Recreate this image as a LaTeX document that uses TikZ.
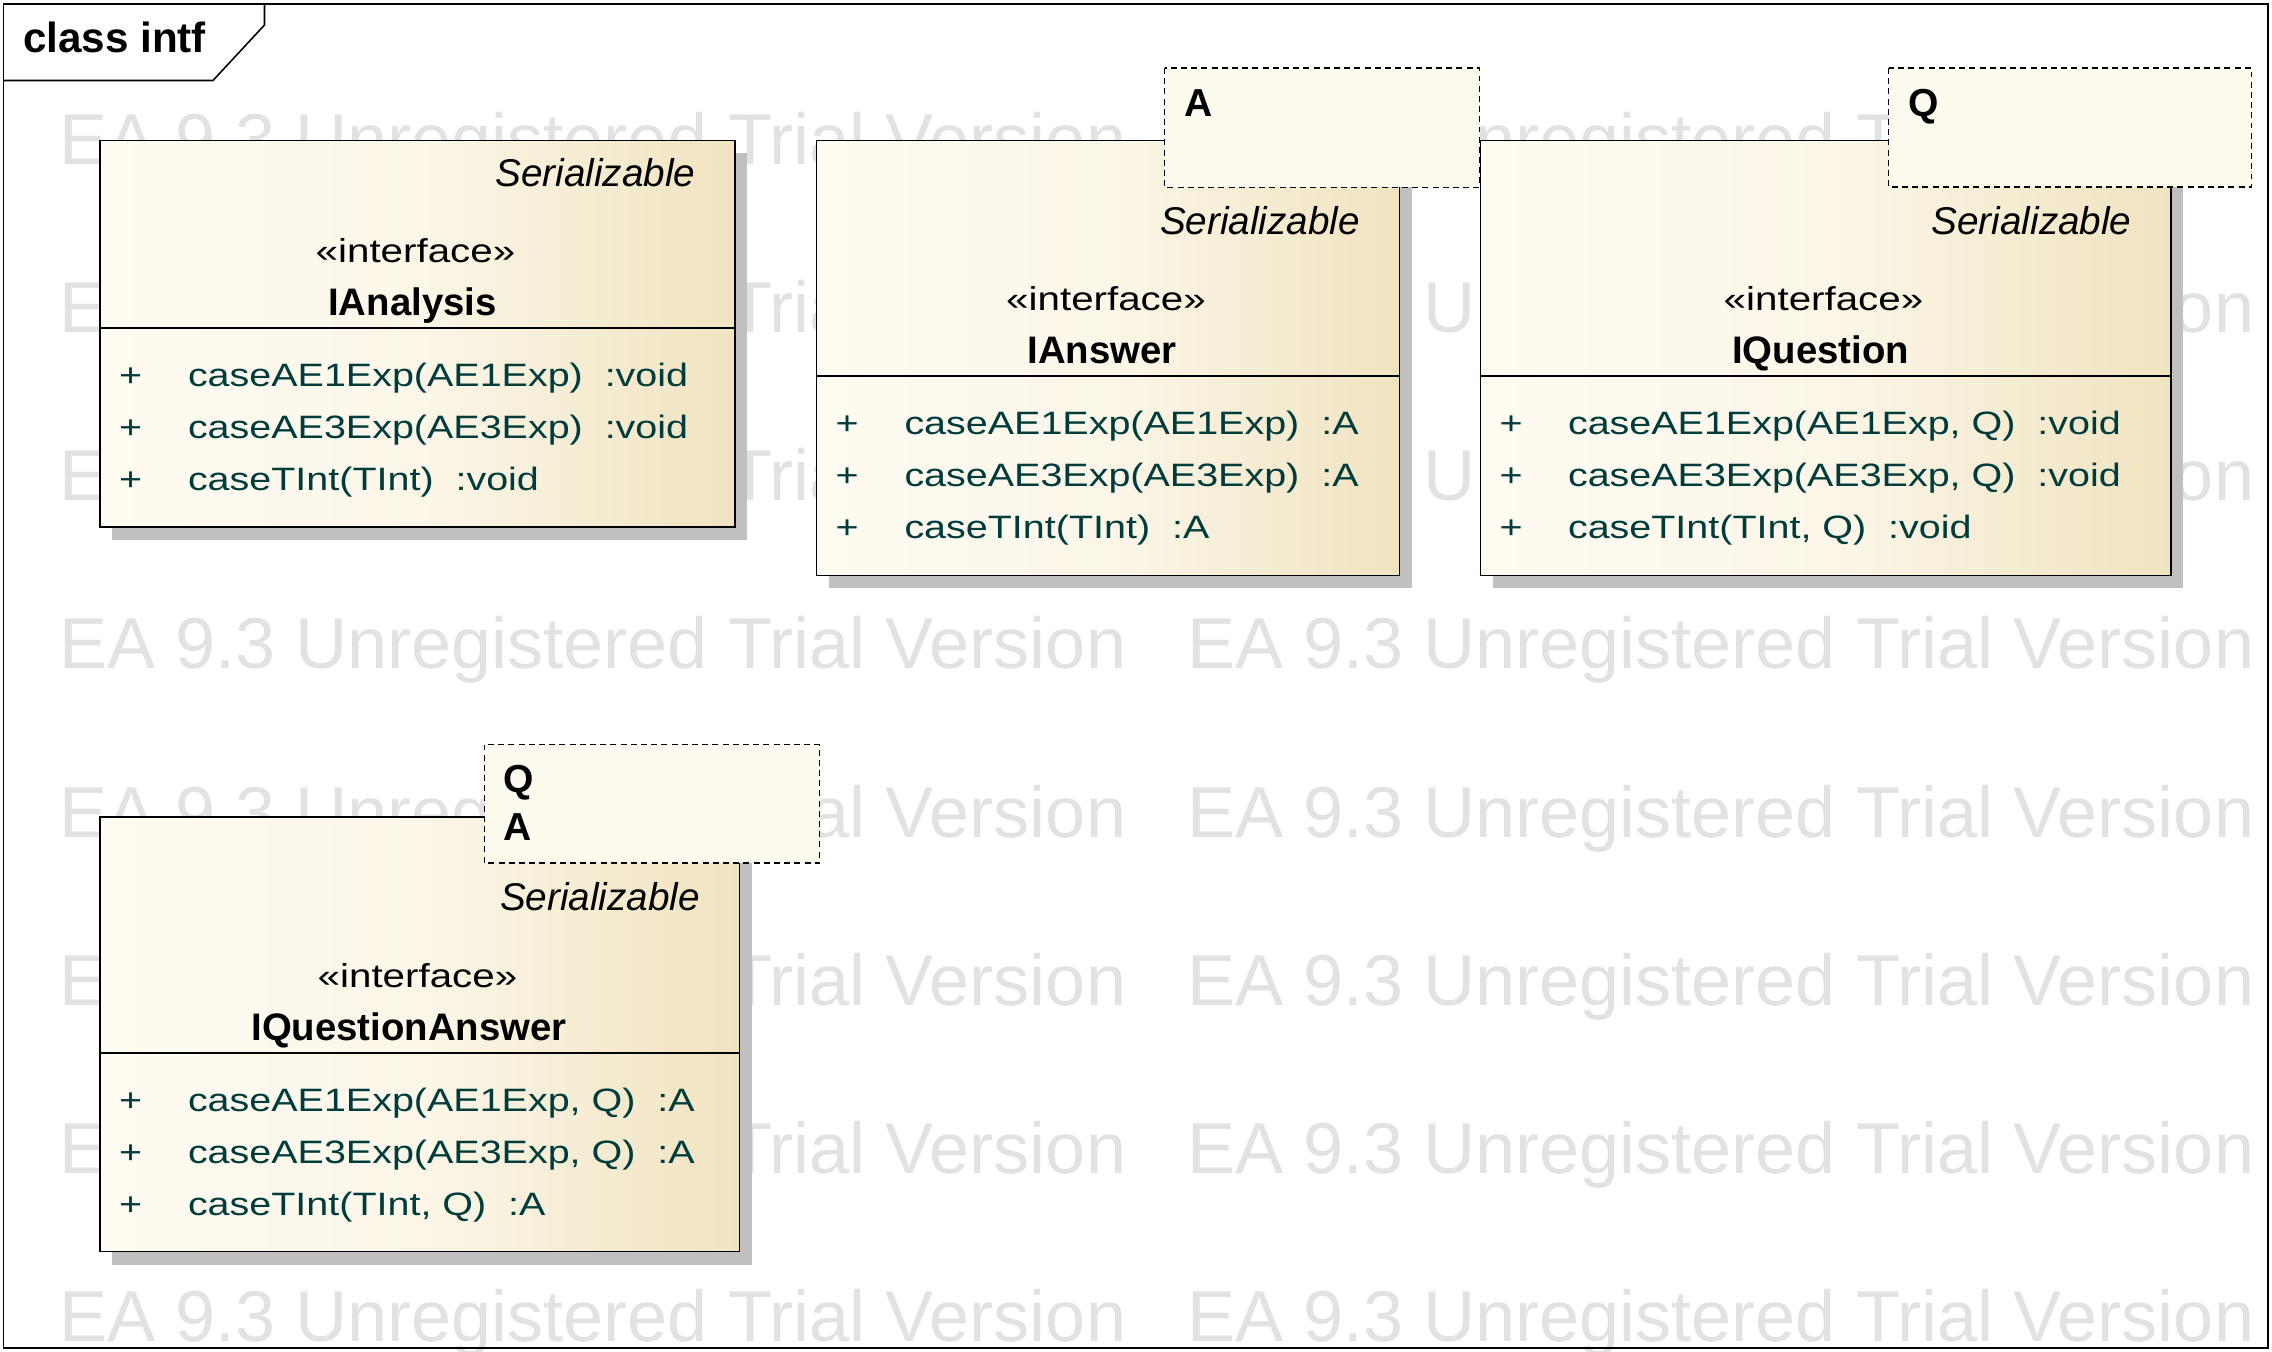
\documentclass[tikz,border=0pt]{standalone}
\usepackage{fontspec}
\setmainfont{Liberation Sans}
\newfontfamily\widefont[FakeStretch=1.22]{Liberation Sans}
\definecolor{boxlight}{RGB}{254,251,242}
\definecolor{boxdark}{RGB}{240,227,192}
\colorlet{boxmid}{boxlight!80!boxdark}
\definecolor{tplfill}{RGB}{253,250,238}
\definecolor{optext}{RGB}{0,60,60}
\definecolor{wmgray}{RGB}{226,226,226}
\definecolor{shadowgray}{RGB}{192,192,192}
\begin{document}
\begin{tikzpicture}[x=0.01cm, y=-0.01cm,
    every node/.style={inner sep=0pt, outer sep=0pt},
    watermark/.style={text=wmgray, font=\fontsize{20.5}{24}\selectfont, anchor=base west},
    shadowbox/.style={fill=shadowgray},
    ifacebox/.style={draw=black, line width=0.45pt, left color=boxlight, right color=boxdark, middle color=boxmid},
    tplbox/.style={draw=black, line width=0.35pt, dash pattern=on 1.7pt off 1.2pt, fill=tplfill},
    sepline/.style={line width=0.35pt},
    parentname/.style={font=\itshape\fontsize{11}{13}\selectfont, anchor=base east},
    stereo/.style={font=\widefont\fontsize{9.4}{11}\selectfont, anchor=base},
    iname/.style={font=\bfseries\fontsize{10.9}{13}\selectfont, anchor=base},
    op/.style={font=\widefont\fontsize{9.2}{11}\selectfont, text=optext, anchor=base west},
    tparam/.style={font=\bfseries\fontsize{11.1}{13}\selectfont, anchor=base west}]

\useasboundingbox[fill=white] (0,0) rectangle (2272,1352);

\foreach \row in {0,...,7}
  \foreach \col in {0,1}
    \node[watermark] (wm-\row-\col) at ({59+1128*\col},{165+168*\row}) {EA 9.3 Unregistered Trial Version};

% IAnalysis
\fill[shadowbox] (112,153.5) rectangle (747,540);
\draw[ifacebox] (100,140.5) rectangle (735,527);
\draw[sepline] (100,328) -- (735,328);
\node[parentname] (an-ser) at (695.5,186.5) {Serializable};
\node[stereo] (an-st) at (415.5,263) {«interface»};
\node[iname] (an-name) at (412.5,316) {IAnalysis};
\foreach \m [count=\i] in {caseAE1Exp(AE1Exp)~~:void, caseAE3Exp(AE3Exp)~~:void, caseTInt(TInt)~~:void} {
  \node[op] (an-v\i) at ({119},{386.5+52*(\i-1)}) {+};
  \node[op] (an-m\i) at ({188},{386.5+52*(\i-1)}) {\m};
}

% IAnswer
\fill[shadowbox] (828.5,153.5) rectangle (1411.5,588.5);
\draw[ifacebox] (816.5,140.5) rectangle (1399.5,575.5);
\draw[sepline] (816.5,376) -- (1399.5,376);
\draw[tplbox] (1164.5,68) rectangle (1479.5,187.5);
\node[tparam] (ans-a) at (1184,116.5) {A};
\node[parentname] (ans-ser) at (1360,234.5) {Serializable};
\node[stereo] (ans-st) at (1106,311) {«interface»};
\node[iname] (ans-name) at (1102,364) {IAnswer};
\foreach \m [count=\i] in {caseAE1Exp(AE1Exp)~~:A, caseAE3Exp(AE3Exp)~~:A, caseTInt(TInt)~~:A} {
  \node[op] (ans-v\i) at ({835.5},{435+52*(\i-1)}) {+};
  \node[op] (ans-m\i) at ({904.5},{435+52*(\i-1)}) {\m};
}

% IQuestion
\fill[shadowbox] (1492.5,153.5) rectangle (2183,588.5);
\draw[ifacebox] (1480.5,140.5) rectangle (2171,575.5);
\draw[sepline] (1480.5,376) -- (2171,376);
\draw[tplbox] (1888.5,68) rectangle (2251.5,187);
\node[tparam] (q-q) at (1908,116.5) {Q};
\node[parentname] (q-ser) at (2131.5,234.5) {Serializable};
\node[stereo] (q-st) at (1823.5,311) {«interface»};
\node[iname] (q-name) at (1820.5,364) {IQuestion};
\foreach \m [count=\i] in {{caseAE1Exp(AE1Exp, Q)~~:void}, {caseAE3Exp(AE3Exp, Q)~~:void}, {caseTInt(TInt, Q)~~:void}} {
  \node[op] (q-v\i) at ({1499.5},{435+52*(\i-1)}) {+};
  \node[op] (q-m\i) at ({1568},{435+52*(\i-1)}) {\m};
}

% IQuestionAnswer
\fill[shadowbox] (112,830) rectangle (751.5,1264.5);
\draw[ifacebox] (100,817) rectangle (739.5,1251.5);
\draw[sepline] (100,1053) -- (739.5,1053);
\draw[tplbox] (484.5,744.5) rectangle (819.5,863);
\node[tparam] (qa-q) at (503.5,792) {Q};
\node[tparam] (qa-a) at (503.5,840) {A};
\node[parentname] (qa-ser) at (700,910.5) {Serializable};
\node[stereo] (qa-st) at (417.5,987.5) {«interface»};
\node[iname] (qa-name) at (409,1040.5) {IQuestionAnswer};
\foreach \m [count=\i] in {{caseAE1Exp(AE1Exp, Q)~~:A}, {caseAE3Exp(AE3Exp, Q)~~:A}, {caseTInt(TInt, Q)~~:A}} {
  \node[op] (qa-v\i) at ({119},{1111.5+52*(\i-1)}) {+};
  \node[op] (qa-m\i) at ({188},{1111.5+52*(\i-1)}) {\m};
}

% frame
\draw[line width=0.45pt] (3.5,4) rectangle (2268,1348);
\draw[line width=0.45pt] (3.5,80.5) -- (213,80.5) -- (264.5,25) -- (264.5,4);
\node[font=\bfseries\fontsize{12}{14}\selectfont, anchor=base west] (title) at (23,53) {class intf};

\end{tikzpicture}
\end{document}
